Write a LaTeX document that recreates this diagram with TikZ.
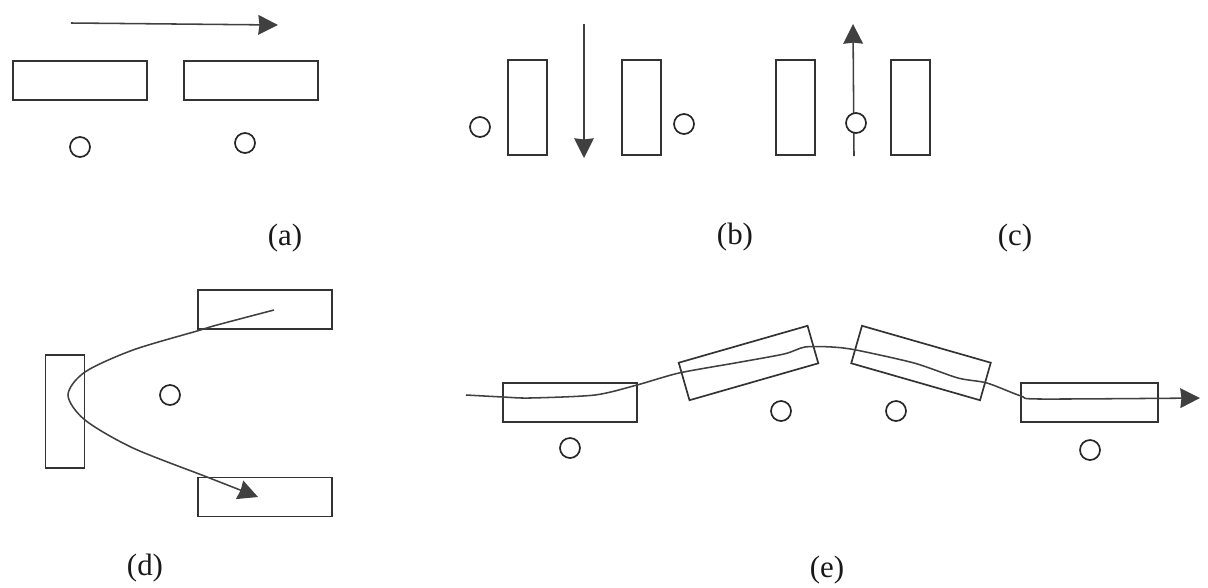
\documentclass[tikz,border=0pt]{standalone}
\usepackage{fontspec}
\setmainfont{Liberation Serif}
\usetikzlibrary{arrows.meta}
\tikzset{
  plate/.style={draw=black!80,line width=1.2pt,inner sep=0pt,minimum width=#1*0.025cm,minimum height=0.975cm},
  plateup/.style={draw=black!80,line width=1.2pt,inner sep=0pt,minimum width=0.975cm,minimum height=#1*0.025cm},
  ion/.style={circle,draw=black!85,fill=white,line width=1.2pt,inner sep=0pt,minimum size=0.5cm},
  caption/.style={font=\fontsize{22}{26}\selectfont,text=black!90},
  track/.style={line width=1.1pt,draw=black!75}
}
\begin{document}
\begin{tikzpicture}[x=0.025cm,y=-0.025cm,>={Stealth[length=14pt,width=14pt,inset=0.8pt]}]
	\useasboundingbox (0,0) rectangle (1208,587);
	\coordinate (as) at (71,23);
	\coordinate (ae) at (278,25);
	\draw[->,track] (as)--(ae);
	\node[plate=134] (a1) at (80,80.5) {};
	\node[plate=134] (a2) at (251,80.5) {};
	\node[ion] (ia1) at (80,147) {};
	\node[ion] (ia2) at (245,143) {};
	\node[caption] (la) at (285,238) {(a)};
	\coordinate (bs) at (584,24);
	\coordinate (be) at (584,158);
	\draw[->,track] (bs)--(be);
	\node[plateup=95] (b1) at (527.5,107.5) {};
	\node[plateup=95] (b2) at (641.5,107.5) {};
	\node[ion] (ib1) at (480,127) {};
	\node[ion] (ib2) at (684,124) {};
	\node[caption] (lb) at (735,237) {(b)};
	\coordinate (cs) at (854,156);
	\coordinate (ce) at (853,24);
	\draw[->,track] (cs)--(ce);
	\node[plateup=95] (c1) at (795.5,107.5) {};
	\node[plateup=95] (c2) at (910.5,107.5) {};
	\node[ion] (ic) at (856,123) {};
	\node[caption] (lc) at (1015,238) {(c)};
	\node[plate=134] (d1) at (265,309.5) {};
	\node[plateup=113] (d2) at (65,411.5) {};
	\node[plate=134] (d3) at (265,497) {};
	\node[ion] (id) at (170,395) {};
	\draw[->,track] plot[smooth] coordinates {(274,310) (217,325) (197,331) (133,350) (85,372) (68,395) (85,420) (133,448) (207,477) (258,497)};
	\node[caption] (ld) at (145,568) {(d)};
	\node[plate=134] (e1) at (570,402.5) {};
	\node[plate=134,rotate=16] (e2) at (748.5,363) {};
	\node[plate=134,rotate=-16] (e3) at (921,363) {};
	\node[plate=137] (e4) at (1089.5,402.5) {};
	\node[ion] (ie1) at (570,448) {};
	\node[ion] (ie2) at (781,411) {};
	\node[ion] (ie3) at (896,411) {};
	\node[ion] (ie4) at (1090,450) {};
	\draw[->,track] plot[smooth,tension=0.45] coordinates {(466,395) (503,397) (530,398) (595,395) (637,385) (679,373) (735,363) (784,354) (805,347) (832,347) (856,350) (914,363) (958,378) (987,383) (1021,396) (1040,399) (1200,398)};
	\node[caption] (le) at (827,570) {(e)};
\end{tikzpicture}
\end{document}
